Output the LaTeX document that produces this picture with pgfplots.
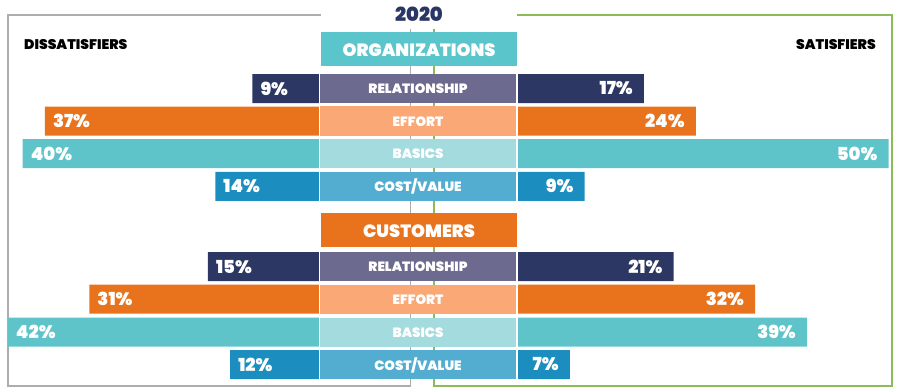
\documentclass[border=0pt]{standalone}
\usepackage{fontspec}
\setmainfont{Poppins}[UprightFont=* ExtraBold, BoldFont=* Black]
\usepackage{pgfplots}
\pgfplotsset{compat=1.18}
\definecolor{navy}{HTML}{2C3863}
\definecolor{relbox}{HTML}{6C6A8E}
\definecolor{orng}{HTML}{E8731C}
\definecolor{effbox}{HTML}{F9A876}
\definecolor{teal}{HTML}{5FC4CA}
\definecolor{basbox}{HTML}{A3DBDE}
\definecolor{blu}{HTML}{1B8EBF}
\definecolor{costbox}{HTML}{52ADD0}
\definecolor{orghead}{HTML}{5BC5CC}
\definecolor{grayline}{HTML}{ADADAD}
\definecolor{greenline}{HTML}{8DBB55}
\definecolor{titlec}{HTML}{2A3766}
\pgfplotsset{
  common/.style={scale only axis, height=392bp, ymin=0, ymax=392, y dir=reverse,
    hide axis, clip=false, anchor=south west},
  bars/.style={common, xbar, bar width=29, point meta=x,
    nodes near coords={\pgfmathprintnumber[assume math mode=true]{\pgfplotspointmeta}\%},
    every node near coord/.append style={text=white, inner sep=0pt, font=\bfseries\fontsize{18}{18}\selectfont}},
}
\tikzset{cl/.style={text=white, font=\bfseries\fontsize{13.5}{13.5}\selectfont}}
\begin{document}
\begin{tikzpicture}
% frame
\begin{axis}[common, at={(0bp,0bp)}, width=900bp, xmin=0, xmax=900]
  \draw[grayline, line width=1.3pt] (321,15) -- (8,15) -- (8,386) -- (410.5,386) -- (410.5,29);
  \draw[greenline, line width=1.3pt] (517,15) -- (892,15) -- (892,386) -- (434,386) -- (434,29);
  \node[text=titlec, font=\bfseries\fontsize{19.5}{19.5}\selectfont] at (419,14) {2020};
  \node[anchor=west, inner sep=0pt, text=black, font=\bfseries\fontsize{14}{14}\selectfont] at (24,45) {DISSATISFIERS};
  \node[anchor=east, inner sep=0pt, text=black, font=\bfseries\fontsize{14}{14}\selectfont] at (876,45) {SATISFIERS};
  % headers
  \fill[orghead] (321,32) rectangle (517,66);
  \node[text=white, font=\bfseries\fontsize{17.8}{17.8}\selectfont] at (419,50) {ORGANIZATIONS};
  \fill[orng] (321,213) rectangle (517,247);
  \node[text=white, font=\bfseries\fontsize{17.8}{17.8}\selectfont] at (419,231) {CUSTOMERS};
  % center boxes: organizations
  \fill[relbox] (320,74) rectangle (516,103);
  \node[cl] at (418,89) {RELATIONSHIP};
  \fill[effbox] (320,106.5) rectangle (516,135.5);
  \node[cl] at (418,121.5) {EFFORT};
  \fill[basbox] (320,139) rectangle (516,168);
  \node[cl] at (418,154) {BASICS};
  \fill[costbox] (320,171.8) rectangle (516,200.8);
  \node[cl] at (418,186.8) {COST/VALUE};
  % center boxes: customers
  \fill[relbox] (320,252.2) rectangle (516,281.2);
  \node[cl] at (418,267.2) {RELATIONSHIP};
  \fill[effbox] (320,284.5) rectangle (516,313.5);
  \node[cl] at (418,299.5) {EFFORT};
  \fill[basbox] (320,317.5) rectangle (516,346.5);
  \node[cl] at (418,332.5) {BASICS};
  \fill[costbox] (320,350) rectangle (516,379);
  \node[cl] at (418,365) {COST/VALUE};
\end{axis}
% dissatisfiers (left)
\begin{axis}[bars, at={(0bp,0bp)}, width=319bp, xmin=0, xmax=43.05, x dir=reverse,
    every node near coord/.append style={anchor=west, xshift=8bp}]
  \addplot[fill=navy, draw=none, bar shift=0pt] coordinates {(9,88.5) (15,266.7)};
  \addplot[fill=orng, draw=none, bar shift=0pt] coordinates {(37,121) (31,299)};
  \addplot[fill=teal, draw=none, bar shift=0pt] coordinates {(40,153.5) (42,332)};
  \addplot[fill=blu, draw=none, bar shift=0pt] coordinates {(14,186.3) (12,364.5)};
\end{axis}
% satisfiers (right)
\begin{axis}[bars, at={(518bp,0bp)}, width=382bp, xmin=0, xmax=51.55,
    every node near coord/.append style={anchor=east, xshift=-11bp}]
  \addplot[fill=navy, draw=none, bar shift=0pt] coordinates {(17,88.5) (21,266.7)};
  \addplot[fill=orng, draw=none, bar shift=0pt] coordinates {(24,121) (32,299)};
  \addplot[fill=teal, draw=none, bar shift=0pt] coordinates {(50,153.5) (39,332)};
  \addplot[fill=blu, draw=none, bar shift=0pt] coordinates {(9,186.3) (7,364.5)};
\end{axis}
\pgfresetboundingbox
\path[use as bounding box] (0bp,0bp) rectangle (900bp,392bp);
\end{tikzpicture}
\end{document}
